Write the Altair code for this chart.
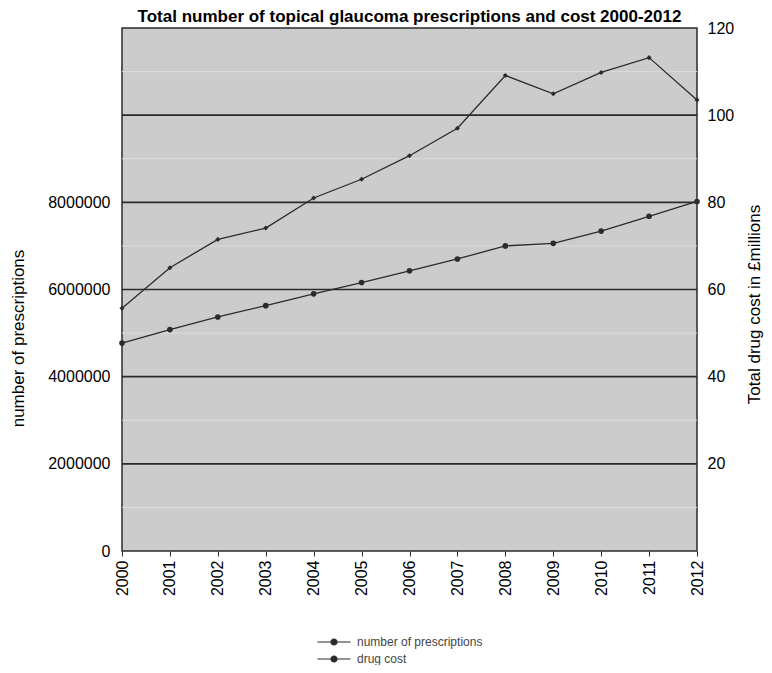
import altair as alt
import pandas as pd

years = list(range(2000, 2013))
prescriptions = [4770000, 5080000, 5370000, 5630000, 5900000, 6160000, 6430000,
                 6700000, 7000000, 7060000, 7340000, 7680000, 8020000]
drug_cost = [55.7, 65.0, 71.5, 74.1, 81.0, 85.3, 90.7, 97.0, 109.1, 104.9, 109.8, 113.2, 103.5]

major_grid = [2000000, 4000000, 6000000, 8000000, 10000000]
minor_grid = [1000000, 3000000, 5000000, 7000000, 9000000, 11000000]
left_ticks = [0, 2000000, 4000000, 6000000, 8000000, 10000000, 12000000]
right_ticks = [20, 40, 60, 80, 100, 120]

title_text = "Total number of topical glaucoma prescriptions and cost 2000-2012"
series_names = ["number of prescriptions", "drug cost"]

df_p = pd.DataFrame({"year": years, "value": prescriptions, "series": series_names[0]})
df_c = pd.DataFrame({"year": years, "value": drug_cost, "series": series_names[1]})
df_major = pd.DataFrame({"g": major_grid})
df_minor = pd.DataFrame({"g": minor_grid})

FONT = "Liberation Sans"
DARK = "#2b2b2b"

x_enc = alt.X("year:Q",
              scale=alt.Scale(domain=[2000, 2012], nice=False, zero=False),
              axis=alt.Axis(values=years, format="d", labelAngle=270, labelFontSize=16,
                            labelColor="black", labelFont=FONT, tickColor=DARK, tickSize=5,
                            domain=False, grid=False, title=None, labelPadding=4))

left_scale = alt.Scale(domain=[0, 12000000], nice=False)
color_enc = alt.Color("series:N",
                      scale=alt.Scale(domain=series_names, range=[DARK, DARK]),
                      legend=alt.Legend(orient="none", legendX=206, legendY=608,
                                        direction="vertical", title=None,
                                        symbolType="M-3.3,0L3.3,0M-0.6,0a0.6,0.6 0 1,0 1.2,0a0.6,0.6 0 1,0 -1.2,0",
                                        symbolSize=100, symbolStrokeWidth=1.2,
                                        symbolFillColor=DARK, symbolStrokeColor=DARK,
                                        labelFont=FONT, labelFontSize=12,
                                        labelColor="#444", labelOffset=17, rowPadding=5))

left_axis = alt.Axis(values=left_ticks, format="d",
                     labelExpr="datum.value > 8000000 ? '' : datum.label",
                     labelFontSize=16, labelFont=FONT, labelColor="black", ticks=False,
                     domain=False, grid=False, labelPadding=12, orient="left",
                     title="number of prescriptions", titleFontSize=17, titleFont=FONT,
                     titleFontWeight="normal", titleColor="black",
                     titleAngle=270, titleX=-99, titleY=310, titleAlign="center",
                     titleBaseline="alphabetic")

minor = alt.Chart(df_minor).mark_rule(color="#dcdcdc", strokeWidth=1).encode(
    y=alt.Y("g:Q", scale=left_scale, axis=left_axis))
major = alt.Chart(df_major).mark_rule(color=DARK, strokeWidth=1.6).encode(
    y=alt.Y("g:Q", scale=left_scale, axis=left_axis))

p_line = alt.Chart(df_p).mark_line(strokeWidth=1.3).encode(
    x=x_enc, y=alt.Y("value:Q", scale=left_scale, axis=left_axis), color=color_enc)
p_pts = alt.Chart(df_p).mark_point(filled=True, shape="circle", size=32, opacity=1,
                                   color=DARK).encode(
    x=x_enc, y=alt.Y("value:Q", scale=left_scale, axis=left_axis))

right_scale = alt.Scale(domain=[0, 120], nice=False)
right_axis = alt.Axis(values=right_ticks, labelFontSize=16, labelFont=FONT,
                      labelColor="black", ticks=False, domain=False, grid=False,
                      labelPadding=10, orient="right",
                      title="Total drug cost in £millions", titleFontSize=17, titleFont=FONT,
                      titleFontWeight="normal", titleColor="black", titleAngle=270,
                      titleX=62, titleY=276, titleAlign="center",
                      titleBaseline="alphabetic")

c_line = alt.Chart(df_c).mark_line(strokeWidth=1.3).encode(
    x=x_enc, y=alt.Y("value:Q", scale=right_scale, axis=right_axis), color=color_enc)
c_pts = alt.Chart(df_c).mark_point(filled=True, shape="diamond", size=26, opacity=1,
                                   color=DARK).encode(
    x=x_enc, y=alt.Y("value:Q", scale=right_scale, axis=right_axis))

left_layer = alt.layer(minor, major, p_line, p_pts)
right_layer = alt.layer(c_line, c_pts)

chart = alt.layer(left_layer, right_layer).resolve_scale(y="independent").properties(
    width=575, height=523,
    autosize=alt.AutoSizeParams(type="none"),
    padding={"left": 114, "top": 20, "right": 67, "bottom": 114},
    title=alt.TitleParams(title_text, font=FONT, fontSize=17,
                          fontWeight="bold", color="black", anchor="middle", offset=-6,
                          frame="group"),
).configure_view(fill="#cccccc", stroke=DARK, strokeWidth=1.5)

chart.save("out.html", embed_options={"renderer": "svg", "actions": False})
